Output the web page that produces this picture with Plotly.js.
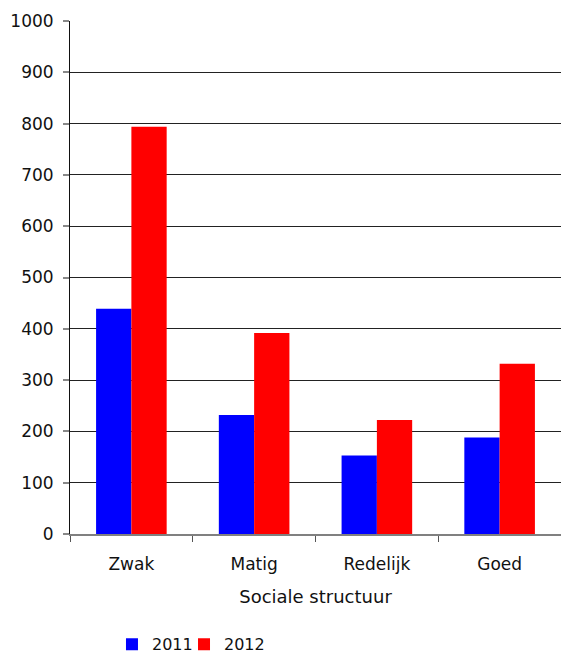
<!DOCTYPE html>
<html><head><meta charset="utf-8">
<script src="https://cdn.plot.ly/plotly-3.0.1.min.js"></script>
<style>html,body{margin:0;padding:0;background:#fff}</style>
</head><body>
<div id="chart" style="width:561px;height:655px"></div>
<script>
var categories = ["Zwak", "Matig", "Redelijk", "Goed"];
var values2011 = [439, 232, 153, 188];
var values2012 = [794, 392, 222, 332];
var seriesNames = ["2011", "2012"];

var FONT = "DejaVu Sans, sans-serif";
var data = [
  {type: "bar", name: seriesNames[0], x: categories, y: values2011, marker: {color: "#0000ff"}, legend: "legend"},
  {type: "bar", name: seriesNames[1], x: categories, y: values2012, marker: {color: "#ff0000"}, legend: "legend2"}
];
var legendBase = {orientation: "h", xanchor: "left", y: -0.215, yanchor: "middle",
  font: {family: FONT, size: 16, color: "#111"}, itemwidth: 30, bgcolor: "rgba(0,0,0,0)"};
var layout = {
  width: 561, height: 655,
  margin: {l: 70, r: 0, t: 21, b: 121, pad: 0, autoexpand: false},
  paper_bgcolor: "#fff", plot_bgcolor: "#fff",
  font: {family: FONT, size: 17, color: "#111"},
  barmode: "group", bargap: 0.425, bargroupgap: 0,
  showlegend: true,
  legend: Object.assign({}, legendBase, {x: 0.0855}),
  legend2: Object.assign({}, legendBase, {x: 0.2322}),
  xaxis: {
    title: {text: "Sociale structuur", font: {family: FONT, size: 18, color: "#111"}, standoff: 17},
    showline: true, linecolor: "#808080", linewidth: 2,
    ticks: "outside", tickson: "boundaries", ticklen: 6, tickcolor: "#555", tickwidth: 1,
    ticklabelstandoff: 14,
    tickfont: {family: FONT, size: 17, color: "#111"},
    showgrid: false, zeroline: false
  },
  yaxis: {
    range: [0, 1000], dtick: 100, tick0: 0,
    showline: true, linecolor: "#111", linewidth: 1,
    ticks: "outside", ticklen: 6, tickcolor: "#888", tickwidth: 2,
    ticklabelstandoff: 6,
    tickfont: {family: FONT, size: 17, color: "#111"},
    showgrid: true, gridcolor: "#222", gridwidth: 1,
    zeroline: false
  }
};
Plotly.newPlot("chart", data, layout, {displayModeBar: false, staticPlot: true});
</script>
</body></html>
